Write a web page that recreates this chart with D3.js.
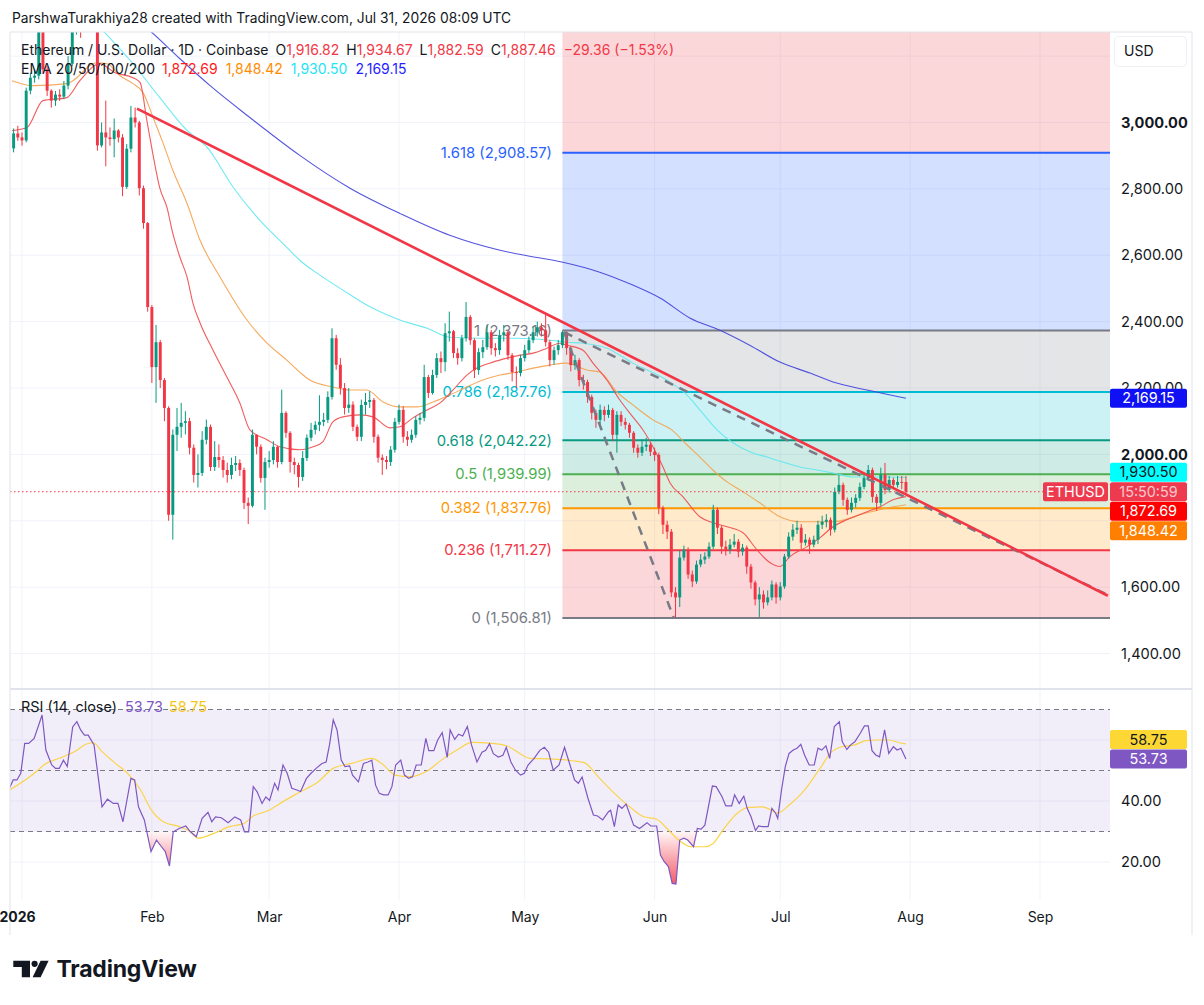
<!DOCTYPE html>
<html><head><meta charset="utf-8">
<script src="https://cdn.jsdelivr.net/npm/d3@7"></script>
<style>html,body{margin:0;padding:0;background:#fff;overflow:hidden}svg{display:block}</style>
</head><body>
<script>
// ---------------- DATA ----------------
const candleStart = "2025-12-30";        // first daily candle
const openFirst = 2922;                   // open of the first candle (later opens = previous close)
const closes = [
2967,2955,2946,3096,3135,3141,3290,3160,3096,3066,
3084,3078,3111,3177,3330,3345,3320,3350,3380,3360,
2931,2970,2955,2950,2976,2955,2806,2921,3015,3000,
2802,2697,2444,2263,2338,2224,2140,1818,2059,2083,
2095,2100,2020,1938,1944,2044,2083,1962,1992,1983,
1953,1938,1968,1974,1953,1854,1845,2059,2023,1929,
1977,1983,2023,1977,2125,2065,1977,1968,1932,1989,
2050,2074,2089,2098,2104,2173,2350,2270,2200,2140,
2150,2083,2053,2149,2158,2164,2053,1990,1983,1977,
2014,2098,2134,2053,2044,2059,2104,2110,2233,2185,
2239,2290,2278,2365,2371,2305,2290,2350,2414,2344,
2254,2308,2323,2368,2320,2314,2359,2368,2299,2248,
2245,2290,2314,2344,2368,2383,2374,2338,2284,2314,
2329,2368,2320,2269,2284,2224,2218,2173,2125,2104,
2134,2119,2134,2059,2119,2098,2089,2065,2020,2005,
2023,2029,2008,1998,1839,1788,1767,1584,1569,1689,
1713,1638,1617,1668,1683,1692,1722,1833,1779,1722,
1713,1728,1737,1707,1719,1662,1614,1563,1578,1554,
1569,1608,1569,1602,1692,1752,1773,1779,1734,1743,
1728,1743,1788,1797,1803,1773,1887,1908,1863,1833,
1854,1869,1902,1929,1953,1872,1854,1938,1893,1923,
1908,1917,1916.82,1887.46];
const highs = [
2982,2990,2970,3105,3150,3160,3310,3300,3170,3100,
3095,3100,3125,3200,3345,3380,3360,3370,3400,3395,
3370,3000,3066,2985,3012,2980,2965,2935,3050,3045,
3005,2810,2700,2450,2390,2345,2230,2145,2075,2140,
2155,2130,2110,2030,2000,2070,2105,2090,2040,2030,
1995,1975,1990,1995,1985,1960,1870,2075,2060,2030,
1990,2010,2040,2025,2195,2130,2070,1990,1975,2010,
2060,2095,2100,2178,2125,2190,2380,2360,2290,2215,
2200,2160,2090,2165,2185,2190,2170,2060,2000,1995,
2025,2110,2150,2145,2070,2075,2115,2125,2270,2240,
2255,2305,2310,2395,2430,2375,2320,2360,2459,2420,
2350,2320,2345,2390,2375,2335,2375,2390,2375,2305,
2265,2300,2330,2355,2385,2400,2395,2420,2345,2325,
2345,2373.16,2370,2325,2300,2290,2240,2225,2180,2135,
2150,2145,2150,2140,2130,2130,2110,2095,2070,2030,
2045,2050,2035,2020,2005,1845,1800,1775,1600,1710,
1725,1720,1650,1680,1700,1705,1735,1848,1840,1785,
1740,1745,1760,1745,1730,1725,1670,1620,1600,1590,
1590,1620,1615,1615,1700,1765,1790,1800,1790,1760,
1750,1755,1800,1815,1820,1810,1900,1938,1915,1870,
1870,1880,1915,1945,1968,1960,1880,1960,1974,1935,
1930,1935,1935,1934.67];
const lows = [
2910,2945,2930,2940,3085,3120,3130,3150,3080,3045,
3050,3065,3070,3100,3170,3265,3255,3290,3300,3280,
2915,2925,2868,2930,2895,2940,2778,2800,2910,2985,
2780,2680,2430,2215,2155,2200,2100,1800,1743,2010,
2050,2060,2000,1915,1900,1935,2030,1950,1950,1960,
1930,1915,1925,1950,1935,1835,1790,1840,2000,1915,
1833,1960,1970,1960,1970,2050,1945,1940,1900,1920,
1980,2040,2060,2070,2085,2095,2165,2255,2180,2120,
2125,2070,2040,2040,2120,2140,2035,1975,1938,1955,
1965,2005,2090,2035,2025,2035,2050,2090,2100,2170,
2180,2230,2245,2250,2340,2290,2270,2280,2340,2330,
2230,2240,2290,2315,2300,2295,2300,2340,2285,2220,
2200,2235,2280,2305,2335,2355,2355,2325,2265,2270,
2300,2320,2300,2250,2255,2205,2195,2155,2105,2080,
2085,2100,2110,2040,2005,2085,2075,2050,2005,1990,
1995,2010,1995,1980,1820,1760,1745,1570,1506.81,1540,
1680,1625,1600,1610,1660,1670,1685,1715,1760,1700,
1695,1700,1720,1690,1695,1640,1595,1545,1510,1535,
1545,1560,1550,1560,1595,1685,1740,1760,1715,1725,
1700,1720,1730,1775,1780,1755,1765,1880,1845,1818,
1825,1840,1860,1895,1920,1855,1830,1845,1880,1885,
1895,1900,1895,1882.59];

// EMA lines: [day since 2026-01-01, value]
const ema20Day = [-2.4,1.2,5,10.7,13.8,18.6,22.2,26.5,28.2,29.8,31.3,32.9,34.6,36,37.7,39.4,40.8,42.5,45.6,48.9,52,54.4,58.5,61.6,66.3,69.5,71.8,74.2,76.6,80.7,83.8,87.8,90.2,93.3,96.7,99.8,102.9,106.2,108.6,112.4,115.8,118.9,122,125.3,128.4,130.1,133.9,136.3,139.6,142.7,145.8,148.2,150.6,153,154.7,157.8,161.8,164.9,168.3,172.1,175.4,178.5,180.9,183.3,187.4,190.5,193.6,196.9,201.7,204.8,207.9,211];
const ema20Val = [2976,2985,3066,3075,3126,3177,3150,3135,3120,3006,2901,2802,2744,2666,2594,2534,2456,2396,2314,2233,2155,2074,2044,2023,2014,2023,2038,2098,2113,2119,2113,2080,2083,2110,2134,2155,2194,2239,2260,2278,2290,2299,2305,2320,2335,2329,2314,2275,2224,2164,2113,2074,2023,1962,1914,1872,1812,1794,1782,1764,1713,1674,1662,1692,1722,1749,1782,1803,1827,1842,1863,1872.69];
const ema50Day = [-2.4,2.6,10.7,13.1,15.5,17.9,20.3,23.4,26.5,28.9,31.3,33.7,36,39.4,42.5,47.3,53.7,58.5,63.2,66.3,68.7,74.2,78.3,82.3,86.2,90.2,94.3,98.1,102.1,106.2,110,114.1,118.1,122,126,130.1,134.8,137.9,142,145.8,150.6,155.1,158.7,161.8,164.9,168.3,171.4,176.1,180.9,185.7,193.6,201.7,207.9,211];
const ema50Val = [3126,3111,3117,3135,3165,3180,3177,3141,3117,3090,3015,2937,2856,2756,2645,2534,2405,2335,2284,2248,2224,2203,2194,2194,2158,2143,2143,2158,2179,2203,2224,2239,2248,2260,2269,2275,2254,2248,2188,2149,2104,2074,2029,1992,1953,1917,1893,1854,1812,1797,1797,1824,1842,1848.42];
const ema100Day = [10,19.3,26.5,32.9,39.4,44.2,50.4,56.8,63.2,66.3,71.1,76.6,82.3,90.2,96.7,102.1,110,118.1,126,130.1,133.9,139.6,145.8,153.9,158.7,161.8,165.9,169.7,173.7,177.8,181.6,185.7,189.7,193.6,198.3,204.8,211];
const ema100Val = [3400,3277,3177,3075,2976,2925,2805,2705,2624,2585,2540,2495,2450,2405,2380,2353,2350,2350,2344,2338,2335,2320,2275,2224,2179,2134,2074,2035,2008,1992,1977,1962,1953,1944,1932,1932,1930.50];
const ema200Day = [15,30.5,37.7,44.9,54.4,66.3,78.3,90.2,102.1,114.1,121.2,129.1,137.9,145.8,152.3,159.4,166.6,173.7,180.9,188.1,193.6,201.7,211];
const ema200Val = [3420,3277,3192,3111,3015,2901,2802,2726,2660,2615,2597,2579,2549,2510,2471,2411,2374,2329,2278,2245,2218,2194,2169.15];

const rsiDay = [-3,-2.1,-1.2,-0.3,0.65,1.6,2.9,4.8,5.7,7.1,8,8.9,9.9,10.8,12.1,13.1,14,14.9,15.8,17.2,19.1,20.4,21.8,22.9,24.1,26,26.9,27.8,29.2,30.8,32.1,33.3,34.2,35.2,36.1,37.5,39.1,40.2,41.6,43,44.4,45.3,46.2,47.6,49.2,50.8,52.2,53.1,54.1,55.2,56.1,57.3,58.2,59.1,60.3,61.1,62.3,63.3,64.4,65.6,66.5,67.9,69,70.2,71.6,72.6,73.4,74.3,75.2,76.2,77.1,78.2,78.9,80.3,81.5,82.6,83.5,84.4,85.3,86.3,87.4,88.3,89.2,90.4,91.3,92.3,93.2,94.1,95.3,96.4,97.1,98.3,99.2,100.3,101.5,102.2,103.3,104.2,105.2,106.3,107.3,108.6,109.8,110.7,111.6,112.5,113.7,114.8,115.6,116.7,117.8,119,119.9,120.8,122.2,123.6,124.7,125.7,126.8,128.2,129.5,130.7,131.9,132.8,133.7,135.1,136.4,137.4,138.6,140,140.5,141.4,142.3,143.2,144.2,146,147.4,149.2,150.1,151.5,152.4,153.3,154.3,155.2,156.1,157,158,158.9,160.3,161.2,162.1,163,164.8,165.7,167.1,168,169.4,170.1,171.2,172.3,173.1,174,175.1,175.8,176.7,178.1,179,179.9,180.4,181.3,182.2,183.1,184.1,185,185.9,186.8,187.9,189.1,190,190.9,191.9,192.8,193.9,195.1,195.8,196.9,197.8,198.8,200.1,201.1,202,202.9,203.8,204.7,205.9,206.9,208,208.9,209.8,211];
const rsiVal = [44.2,46.9,46.9,49.1,58.9,58.9,60.5,68.2,56.7,51.8,50.7,50.7,53.4,51.3,64.3,66,63.3,61.6,61.6,58.4,38.1,40.6,39.2,39.2,33.2,47.4,46.9,38.1,33.8,23.4,27.2,25,23.4,18.7,29.9,31,31.8,29.9,28.3,34.3,36.3,33.2,34.8,34.5,32.9,34.8,33.8,29.9,29.9,44.7,43.1,39.2,41.3,40.2,45.8,43.6,51.8,49.1,44.2,43.6,43.1,47.4,49.1,50.7,52.3,52.8,58.4,66.6,63.3,53.4,51.3,51.5,48.5,46.3,52.3,52.8,53.4,45.2,42.5,42,42,44.7,51.8,53.4,48.5,47.4,47.9,51.8,51.8,60.5,56.5,56.5,59.9,62.4,54.3,63.3,60.2,61.9,61.3,64.4,58.4,52.8,56,56.6,58.8,55.5,54.4,55,57.6,52.8,50.1,48.5,49.1,51.8,53.9,56.6,57.6,56,50.1,51.8,57.6,52.3,46.9,45.8,47.9,40.9,35.4,35.1,33.8,36.5,37,31.6,38.7,37.6,39,32.1,31,32.9,31.8,31.8,22.3,20.1,18.5,13,12.8,27.2,27.8,27.2,25,31,30.8,32.1,44.9,44.7,41.4,38.4,38.4,42,39.2,41.6,37.6,34.9,30.3,31.8,31.6,31.6,37.6,36,34.3,43.6,51.3,55.6,56.7,57.3,58.6,55.1,51.8,51.8,57.3,56.7,58.1,54,64.4,66,59.4,56.9,58.4,59.4,62.2,64.6,64.6,56.5,55.1,54.5,63.3,55.6,57.8,56.7,57.3,53.73];
const rsiMaDay = [-3,3.4,5.2,8.9,12.6,15.4,17,19.1,21.8,25.6,28.3,30.9,33.7,37.5,40.2,42,45.8,49.5,53.1,55,58.7,62.3,66,70.7,74.3,78.9,83.5,86.3,89,92.7,96.4,100.1,103.8,107.5,112.1,115.7,121.3,125.9,131.4,134.2,137.9,141.8,145.5,148.3,151.5,154.3,156.6,159.8,163,164.8,167.6,170.3,173.1,176.7,178.6,180.4,183.1,186.8,190.5,193.3,195.6,198.8,201.5,204.3,207,209.4,211];
const rsiMaVal = [43.6,49.6,51.8,54,56.2,58.7,59.1,56.2,52.9,48.5,43.6,37,33.2,31.6,29.9,27.8,29.4,31.6,32.7,34.9,36.8,39.8,42.7,46.3,50.7,52.4,54,51.8,48.5,48,49.6,53.4,56.7,59.2,58.9,58.1,54,53.8,53.2,52.6,47.4,42,37.6,34.9,34,30.5,27.4,25,25,25.9,31,35.4,37.8,38.1,37.2,36,38.7,43.6,50.7,56.2,57.8,58.4,59.8,60,60,59.1,58.75];

// Fibonacci retracement (anchored at May 10 high / June low)
const fibRatio = [2.618,1.618,1,0.786,0.618,0.5,0.382,0.236,0];
const fibPrice = [3774.93,2908.57,2373.16,2187.76,2042.22,1939.99,1837.76,1711.27,1506.81];
const fibColor = ['#f23645','#2962ff','#787b86','#00bcd4','#089981','#4caf50','#ff9800','#f23645','#787b86'];
const fibStartDay = 129;

// drawn trend lines: [day, price]
const trendRed = [[27.45,3042],[259.2,1574]];
const trendDash = [[129.4,2368],[258.6,1580]];
const trendDashSteep = [[129.4,2368],[155.6,1507]];

// axis ticks (grid) and the tick labels that are visible on the axes
const priceGrid = [1400,1600,1800,2000,2200,2400,2600,2800,3000,3200];
const priceLabels = [1400,1600,2000,2200,2400,2600,2800,3000];
const rsiGrid = [20,40,60];
const rsiLabels = [20,40];
const monthTickDays = [0,31,59,90,120,151,181,212,243];

// text
const headerText = "ParshwaTurakhiya28 created with TradingView.com, Jul 31, 2026 08:09 UTC";
const symbolText = "Ethereum / U.S. Dollar · 1D · Coinbase";
const ohlcLabels = ["O","H","L","C"];
const changeText = "−29.36 (−1.53%)";
const emaTitle = "EMA 20/50/100/200";
const rsiTitle = "RSI (14, close)";
const countdown = "15:50:59";
const tickerText = "ETHUSD";

// ---------------- DRAWING ----------------
const FF = 'Inter, Roboto, "Noto Sans", sans-serif';
const DARK = '#131722', RED = '#f23645', GREEN = '#089981';
const L = 10, R = 1110, AXR = 1192, MT = 32, MB = 688, RT = 690, RB = 900;
const DAY = 864e5, T0 = Date.UTC(2026,0,1);
const dayDate = d => new Date(T0 + d*DAY);
const x = d3.scaleUtc().domain([dayDate(0), dayDate(243)]).range([22,1040]);
const xd = d => x(dayDate(d));
const y = d3.scaleLinear().domain([1400,3000]).range([653.5,122.5]);
const yr = d3.scaleLinear().domain([20,70]).range([862,709.5]);
const fmt = d3.format(",.2f");

const svg = d3.select('body').append('svg').attr('width',1204).attr('height',1005).style('font-family',FF);
svg.append('rect').attr('width',1204).attr('height',1005).attr('fill','#fff');
const defs = svg.append('defs');
defs.append('clipPath').attr('id','cm').append('rect').attr('x',L).attr('y',MT).attr('width',R-L).attr('height',MB-MT);
defs.append('clipPath').attr('id','cr').append('rect').attr('x',L).attr('y',RT).attr('width',R-L).attr('height',RB-RT);
defs.append('clipPath').attr('id','cos').append('rect').attr('x',L).attr('y',yr(30)).attr('width',R-L).attr('height',RB-yr(30));
const grad = defs.append('linearGradient').attr('id','gos').attr('gradientUnits','userSpaceOnUse')
  .attr('x1',0).attr('x2',0).attr('y1',yr(30)).attr('y2',yr(12));
grad.append('stop').attr('offset',0).attr('stop-color',RED).attr('stop-opacity',0.04);
grad.append('stop').attr('offset',1).attr('stop-color',RED).attr('stop-opacity',0.85);

// grid
const grid = svg.append('g').attr('stroke','#f0f3fa').attr('stroke-width',1);
monthTickDays.forEach(d => grid.append('line').attr('x1',xd(d)).attr('x2',xd(d)).attr('y1',MT).attr('y2',RB));
priceGrid.forEach(p => grid.append('line').attr('x1',L).attr('x2',R).attr('y1',y(p)).attr('y2',y(p)));
rsiGrid.forEach(p => grid.append('line').attr('x1',L).attr('x2',R).attr('y1',yr(p)).attr('y2',yr(p)));

// main pane
const main = svg.append('g').attr('clip-path','url(#cm)');
const fx0 = xd(fibStartDay);
const fib = main.append('g');
for (let i=0;i<fibPrice.length-1;i++){
  fib.append('rect').attr('x',fx0).attr('width',R-fx0)
    .attr('y',y(fibPrice[i])).attr('height',y(fibPrice[i+1])-y(fibPrice[i]))
    .attr('fill',fibColor[i]).attr('fill-opacity',0.2);
}
fibPrice.forEach((p,i)=>{
  fib.append('line').attr('x1',fx0).attr('x2',R).attr('y1',y(p)).attr('y2',y(p))
    .attr('stroke',fibColor[i]).attr('stroke-width',2);
  if (i>0) fib.append('text').attr('x',552).attr('y',y(p)).attr('dy','0.35em').attr('text-anchor','end')
    .attr('font-size',14.8).attr('fill',fibColor[i]).text(`${fibRatio[i]} (${fmt(p)})`);
});

// EMAs
const lineGen = d3.line().x(d=>xd(d[0])).y(d=>y(d[1])).curve(d3.curveMonotoneX);
const emas = [[ema200Day,ema200Val,'#4141dc'],[ema100Day,ema100Val,'#5fe8f0'],[ema50Day,ema50Val,'#f5a14d'],[ema20Day,ema20Val,'#f04a4a']];
emas.forEach(([ds,vs,c])=>{
  main.append('path').datum(ds.map((d,i)=>[d,vs[i]])).attr('d',lineGen)
    .attr('fill','none').attr('stroke',c).attr('stroke-width',1.1).attr('stroke-opacity',0.9);
});

// candles
const startDay = Math.round((Date.parse(candleStart+'T00:00:00Z') - T0)/DAY);
const candles = closes.map((c,i)=>({d:startDay+i, o: i===0?openFirst:closes[i-1], h:highs[i], l:lows[i], c}));
const bw = (xd(1)-xd(0))*0.7;
const cg = main.append('g');
cg.selectAll('line').data(candles).join('line')
  .attr('x1',d=>xd(d.d)).attr('x2',d=>xd(d.d)).attr('y1',d=>y(d.h)).attr('y2',d=>y(d.l))
  .attr('stroke',d=>d.c>=d.o?GREEN:RED).attr('stroke-width',1);
cg.selectAll('rect').data(candles).join('rect')
  .attr('x',d=>xd(d.d)-bw/2).attr('width',bw)
  .attr('y',d=>y(Math.max(d.o,d.c))).attr('height',d=>Math.max(1,Math.abs(y(d.o)-y(d.c))))
  .attr('fill',d=>d.c>=d.o?GREEN:RED);

// trend lines
const tl = d3.line().x(d=>xd(d[0])).y(d=>y(d[1]));
main.append('path').datum(trendDash).attr('d',tl).attr('stroke','#787b86').attr('stroke-width',2.5).attr('stroke-dasharray','9,7').attr('fill','none');
main.append('path').datum(trendDashSteep).attr('d',tl).attr('stroke','#787b86').attr('stroke-width',2.5).attr('stroke-dasharray','9,7').attr('fill','none');
main.append('path').datum(trendRed).attr('d',tl).attr('stroke',RED).attr('stroke-width',2.6).attr('fill','none');

// last price dotted line
const lastClose = closes[closes.length-1];
svg.append('line').attr('x1',L).attr('x2',1043).attr('y1',y(lastClose)).attr('y2',y(lastClose))
  .attr('stroke',RED).attr('stroke-width',1).attr('stroke-dasharray','1.5,2.5');

// RSI pane
const rp = svg.append('g').attr('clip-path','url(#cr)');
rp.append('rect').attr('x',L).attr('width',R-L).attr('y',yr(70)).attr('height',yr(30)-yr(70)).attr('fill','#7e57c2').attr('fill-opacity',0.1);
[70,50,30].forEach(v=> rp.append('line').attr('x1',L).attr('x2',R).attr('y1',yr(v)).attr('y2',yr(v))
  .attr('stroke','#787b86').attr('stroke-width',1).attr('stroke-dasharray','5,4'));
const rsiPts = rsiDay.map((d,i)=>[d,rsiVal[i]]);
const maPts = rsiMaDay.map((d,i)=>[d,rsiMaVal[i]]);
rp.append('path').datum(rsiPts).attr('clip-path','url(#cos)')
  .attr('d',d3.area().x(d=>xd(d[0])).y0(yr(30)).y1(d=>yr(d[1]))).attr('fill','url(#gos)');
rp.append('path').datum(maPts).attr('d',d3.line().x(d=>xd(d[0])).y(d=>yr(d[1])).curve(d3.curveMonotoneX))
  .attr('fill','none').attr('stroke','#fbd44a').attr('stroke-width',1.2);
rp.append('path').datum(rsiPts).attr('d',d3.line().x(d=>xd(d[0])).y(d=>yr(d[1])))
  .attr('fill','none').attr('stroke','#7e57c2').attr('stroke-width',1.2);

// borders / separators
const bd = svg.append('g').attr('stroke','#e0e3eb');
bd.append('line').attr('x1',L).attr('x2',AXR).attr('y1',MB+1).attr('y2',MB+1).attr('stroke-width',2);
bd.append('line').attr('x1',L).attr('x2',L).attr('y1',MT).attr('y2',935);
bd.append('line').attr('x1',AXR).attr('x2',AXR).attr('y1',MT).attr('y2',935);
bd.append('line').attr('x1',L).attr('x2',AXR).attr('y1',MT).attr('y2',MT);

// price axis
const ya = svg.append('g').attr('transform','translate(1121,0)')
  .call(d3.axisRight(y).tickValues(priceLabels).tickSize(0).tickPadding(0).tickFormat(fmt));
ya.select('.domain').remove();
ya.selectAll('text').attr('font-family',FF).attr('font-size',14.6).attr('fill',DARK)
  .attr('font-weight',d=> (d%1000===0)?700:400);
const ra = svg.append('g').attr('transform','translate(1121,0)')
  .call(d3.axisRight(yr).tickValues(rsiLabels).tickSize(0).tickPadding(0).tickFormat(d3.format('.2f')));
ra.select('.domain').remove();
ra.selectAll('text').attr('font-family',FF).attr('font-size',14.6).attr('fill',DARK);

// time axis
const xa = svg.append('g').attr('transform','translate(0,912)')
  .call(d3.axisBottom(x).tickValues(monthTickDays.map(dayDate)).tickSize(0).tickPadding(0)
    .tickFormat(d=> d.getUTCMonth()===0 ? String(d.getUTCFullYear()) : d3.utcFormat('%b')(d)));
xa.select('.domain').remove();
xa.selectAll('text').attr('font-family',FF).attr('font-size',14).attr('fill',DARK)
  .attr('font-weight',d=> d.getUTCMonth()===0?700:400)
  .attr('dx',d=> d.getUTCMonth()===0?-5:0);

// USD box
svg.append('rect').attr('x',1114.5).attr('y',36.5).attr('width',72).attr('height',30).attr('rx',4)
  .attr('fill','#fff').attr('stroke','#eef0f3');
svg.append('text').attr('x',1124).attr('y',51.5).attr('dy','0.35em').attr('font-size',14).attr('fill',DARK).text('USD');

// badges
function badge(x0,w,yc,txt,bg,fg){
  svg.append('rect').attr('x',x0).attr('y',yc-9.5).attr('width',w).attr('height',19).attr('rx',2).attr('fill',bg);
  svg.append('text').attr('x',x0+w/2).attr('y',yc).attr('dy','0.36em').attr('text-anchor','middle')
    .attr('font-size',14.4).attr('fill',fg).text(txt);
}
function stack(list, anchorIdx){
  list.forEach(b=>b.yc=b.y0);
  for(let i=anchorIdx+1;i<list.length;i++) list[i].yc=Math.max(list[i].y0,list[i-1].yc+19.5);
  for(let i=anchorIdx-1;i>=0;i--) list[i].yc=Math.min(list[i].y0,list[i+1].yc-19.5);
}
const pb = [
  {y0:y(ema200Val[ema200Val.length-1]), t:fmt(ema200Val[ema200Val.length-1]), bg:'#1010f5', fg:'#fff'},
  {y0:y(ema100Val[ema100Val.length-1]), t:fmt(ema100Val[ema100Val.length-1]), bg:'#00ffff', fg:DARK},
  {y0:y(lastClose), t:countdown, bg:'#ee3a4e', fg:'rgba(255,255,255,0.72)'},
  {y0:y(ema20Val[ema20Val.length-1]), t:fmt(ema20Val[ema20Val.length-1]), bg:'#ff0000', fg:'#fff'},
  {y0:y(ema50Val[ema50Val.length-1]), t:fmt(ema50Val[ema50Val.length-1]), bg:'#ff7f00', fg:'#fff'}
];
stack(pb,2);
pb.forEach(b=>badge(1110,77,b.yc,b.t,b.bg,b.fg));
badge(1043,65,pb[2].yc,tickerText,'#ee3a4e','#fff');
const rb = [
  {y0:yr(rsiMaVal[rsiMaVal.length-1]), t:rsiMaVal[rsiMaVal.length-1].toFixed(2), bg:'#fdd835', fg:DARK},
  {y0:yr(rsiVal[rsiVal.length-1]), t:rsiVal[rsiVal.length-1].toFixed(2), bg:'#7e57c2', fg:'#fff'}
];
stack(rb,1);
rb.forEach(b=>badge(1110,77,b.yc,b.t,b.bg,b.fg));

// texts: header & legends
function segs(x0, yy, list, size){
  let cx = x0;
  list.forEach(([t,c,gap])=>{
    cx += gap||0;
    const n = svg.append('text').attr('x',cx).attr('y',yy).attr('dy','0.35em').attr('font-size',size).attr('fill',c).text(t);
    cx += n.node().getComputedTextLength();
  });
}
svg.append('text').attr('x',12).attr('y',18).attr('dy','0.35em').attr('font-size',13.8).attr('fill',DARK).text(headerText);
const last = candles[candles.length-1];
segs(21,50,[
  [symbolText,DARK,0],
  [ohlcLabels[0],DARK,7],[fmt(last.o),RED,0],
  [ohlcLabels[1],DARK,7],[fmt(last.h),RED,0],
  [ohlcLabels[2],DARK,7],[fmt(last.l),RED,0],
  [ohlcLabels[3],DARK,7],[fmt(last.c),RED,0],
  [changeText,RED,8]
],14);
segs(21,69,[
  [emaTitle,DARK,0],
  [fmt(ema20Val[ema20Val.length-1]),'#ff1a1a',7],
  [fmt(ema50Val[ema50Val.length-1]),'#ff8c00',8],
  [fmt(ema100Val[ema100Val.length-1]),'#1ee3f5',8],
  [fmt(ema200Val[ema200Val.length-1]),'#1f1fff',8]
],14);
segs(21,707,[
  [rsiTitle,DARK,0],
  [rsiVal[rsiVal.length-1].toFixed(2),'#7e57c2',8],
  [rsiMaVal[rsiMaVal.length-1].toFixed(2),'#f5c518',6]
],14.4);

// TradingView logo
const lg = svg.append('g').attr('fill',DARK);
lg.append('path').attr('d','M13.3,960.7 H30 V977.3 H21.8 V967 H13.3 Z');
lg.append('circle').attr('cx',34.6).attr('cy',963.8).attr('r',3.1);
lg.append('path').attr('d','M32.6,977.3 L40.6,960.7 H48.6 L40.6,977.3 Z');
svg.append('text').attr('x',56.5).attr('y',977.3).attr('font-size',23).attr('font-weight',700)
  .attr('fill',DARK).attr('letter-spacing',-0.2).text('TradingView');
</script>
</body></html>
